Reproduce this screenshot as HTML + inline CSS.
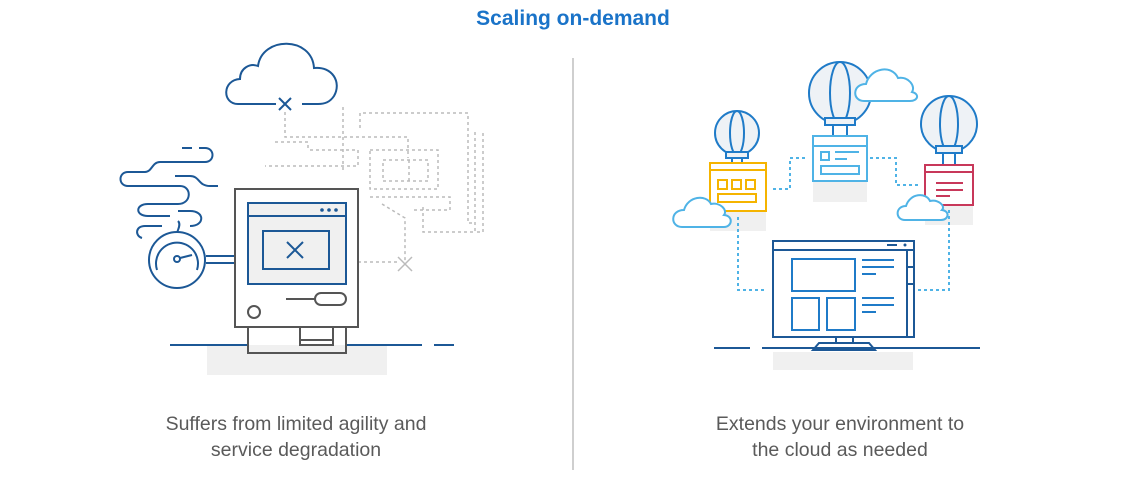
<!DOCTYPE html>
<html><head><style>
body{margin:0;width:1138px;height:473px;background:#fff;overflow:hidden;font-family:"Liberation Sans",sans-serif}
</style></head><body>
<svg width="1138" height="473" viewBox="0 0 1138 473" xmlns="http://www.w3.org/2000/svg">
<text x="573" y="25" text-anchor="middle" font-family="Liberation Sans" font-weight="bold" font-size="21" fill="#1a73c8">Scaling on-demand</text>
<line x1="573" y1="58" x2="573" y2="470" stroke="#cfcfcf" stroke-width="2"/>
<text x="296" y="430" text-anchor="middle" font-size="19.5" fill="#5a5a5a">Suffers from limited agility and</text>
<text x="296" y="456" text-anchor="middle" font-size="19.5" fill="#5a5a5a">service degradation</text>
<text x="840" y="430" text-anchor="middle" font-size="19.5" fill="#5a5a5a">Extends your environment to</text>
<text x="840" y="456" text-anchor="middle" font-size="19.5" fill="#5a5a5a">the cloud as needed</text>

<!-- LEFT -->
<rect x="207" y="345" width="180" height="30" fill="#f0f0f0"/>
<g fill="none" stroke="#bbb" stroke-width="1.5" stroke-dasharray="3,3">
<polyline points="285,112 285,137 408,137 408,158"/>
<polyline points="360,128 360,113 468,113 468,223 475,223"/>
<polyline points="475,132 475,232 483,232 483,132"/>
<polyline points="423,207 423,232 475,232"/>
<polyline points="310,150 358,150 358,166 265,166"/>
<polyline points="275,142 308,142 308,150"/>
<polyline points="370,150 438,150 438,189 370,189 370,150"/>
<polyline points="383,160 428,160 428,181 383,181 383,160"/>
<polyline points="409,160 409,181"/>
<polyline points="370,197 450,197 450,210 414,210"/>
<polyline points="382,204 405,218 405,262"/>
<polyline points="358,262 398,262"/>
<polyline points="343,107 343,173"/>
</g>
<path d="M398,257 l14,14 M412,257 l-14,14" stroke="#bbb" stroke-width="1.5"/>
<g fill="none" stroke="#1c5896" stroke-width="2">
<path d="M276,104 H238 C222,104 222,80 240,79 C240,68 250,63 258,66 C262,36 312,36 314,68 C332,66 342,82 334,96 C330,102 325,104 318,104 H302"/>
<path d="M279,98 l12,12 M291,98 l-12,12"/>
<circle cx="177" cy="260" r="28"/>
<path d="M157,270 A21,21 0 1 1 197,270"/>
<circle cx="177" cy="259" r="3"/>
<line x1="180" y1="258" x2="192" y2="255"/>
<line x1="206" y1="256" x2="235" y2="256"/>
<line x1="206" y1="263" x2="235" y2="263"/>
<path d="M182,148 h10 M199,148 h6 C215,148 215,162 205,162 H160 C152,162 152,172 145,172 H128 C118,172 118,186 128,186 H180 C192,186 192,204 178,204 H148 C135,204 135,216 148,216 H170"/>
<path d="M175,176 h15 C200,176 198,186 210,186 h8"/>
<path d="M178,211 h12 C205,211 205,226 190,226 M162,226 H145 C135,226 135,236 142,238 M178,221 C182,225 176,232 178,232"/>
<line x1="170" y1="345" x2="248" y2="345"/>
<line x1="346" y1="345" x2="422" y2="345"/>
<line x1="434" y1="345" x2="454" y2="345"/>
<rect x="248" y="203" width="98" height="81" fill="#f0f0f0"/>
<line x1="248" y1="216" x2="346" y2="216"/>
<rect x="263" y="231" width="66" height="38"/>
<path d="M287,242 l16,16 M303,242 l-16,16"/>
</g>
<g fill="#1c5896"><circle cx="322" cy="210" r="1.8"/><circle cx="329" cy="210" r="1.8"/><circle cx="336" cy="210" r="1.8"/></g>
<g fill="none" stroke="#555" stroke-width="2">
<rect x="235" y="189" width="123" height="138"/>
<rect x="248" y="327" width="98" height="26"/>
<rect x="300" y="327" width="33" height="18"/>
<line x1="300" y1="340" x2="333" y2="340"/>
<circle cx="254" cy="312" r="6"/>
<path d="M286,299 h29"/>
<rect x="315" y="293" width="31" height="12" rx="6"/>
</g>
<rect x="248" y="203" width="98" height="81" fill="none" stroke="#1c5896" stroke-width="2"/>

<!-- RIGHT -->
<rect x="813" y="181" width="54" height="21" fill="#f0f0f0"/>
<rect x="710" y="211" width="56" height="20" fill="#f0f0f0"/>
<rect x="925" y="205" width="48" height="20" fill="#f0f0f0"/>
<rect x="773" y="352" width="140" height="18" fill="#f0f0f0"/>
<g fill="none" stroke="#4fb3e6" stroke-width="2" stroke-dasharray="3,3">
<polyline points="773,189 790,189 790,158 808,158"/>
<polyline points="870,158 896,158 896,185 921,185"/>
<polyline points="738,217 738,290 765,290"/>
<polyline points="949,210 949,290 917,290"/>
</g>
<g stroke="#1f7bc8" stroke-width="2" fill="#eef2f6">
<circle cx="840" cy="93" r="31"/>
<ellipse cx="840" cy="93" rx="10" ry="31" fill="none"/>
<rect x="825" y="118" width="30" height="7"/>
<path d="M833,125 v10 M847,125 v10" fill="none"/>
<circle cx="737" cy="133" r="22"/>
<ellipse cx="737" cy="133" rx="7" ry="22" fill="none"/>
<rect x="726" y="152" width="22" height="6"/>
<path d="M732,158 v5 M742,158 v5" fill="none"/>
<circle cx="949" cy="124" r="28"/>
<ellipse cx="949" cy="124" rx="9" ry="28" fill="none"/>
<rect x="936" y="146" width="26" height="7"/>
<path d="M943,153 v12 M955,153 v12" fill="none"/>
</g>
<g fill="#fff" stroke-width="2">
<rect x="813" y="136" width="54" height="45" stroke="#4fb3e6"/>
<line x1="813" y1="146" x2="867" y2="146" stroke="#4fb3e6"/>
<rect x="821" y="152" width="8" height="8" stroke="#4fb3e6"/>
<rect x="821" y="166" width="38" height="8" stroke="#4fb3e6"/>
<path d="M835,152 h24 M835,159 h12" stroke="#4fb3e6"/>
<rect x="710" y="163" width="56" height="48" stroke="#f5b400"/>
<line x1="710" y1="170" x2="766" y2="170" stroke="#f5b400"/>
<rect x="718" y="180" width="9" height="9" stroke="#f5b400"/>
<rect x="732" y="180" width="9" height="9" stroke="#f5b400"/>
<rect x="746" y="180" width="9" height="9" stroke="#f5b400"/>
<rect x="718" y="194" width="38" height="8" stroke="#f5b400"/>
<rect x="925" y="165" width="48" height="40" stroke="#c8385a"/>
<line x1="925" y1="172" x2="973" y2="172" stroke="#c8385a"/>
<path d="M936,183 h27 M936,190 h27 M936,196 h14" stroke="#c8385a"/>
</g>
<g fill="#fff" stroke="#4fb3e6" stroke-width="2">
<path d="M864,101 C852,101 852,84 866,84 C870,68 892,64 898,78 C908,76 916,86 912,92 C920,94 918,101 910,101 Z"/>
<path d="M682,227 C670,227 670,210 684,210 C688,196 706,194 711,204 C720,202 728,210 724,215 C734,216 732,227 724,227 Z"/>
<path d="M905,220 C895,220 895,206 906,206 C910,193 926,192 930,201 C938,199 946,206 942,210 C950,211 949,220 941,220 Z"/>
</g>
<g fill="none" stroke="#1c5896" stroke-width="2">
<rect x="773" y="241" width="141" height="96"/>
<line x1="773" y1="250" x2="914" y2="250"/>
<line x1="907" y1="250" x2="907" y2="337"/>
<line x1="907" y1="267" x2="914" y2="267"/>
<line x1="907" y1="284" x2="914" y2="284"/>
<path d="M887,245 h10"/>
<rect x="836" y="337" width="17" height="6"/>
<path d="M813,350 l6,-7 h50 l6,7 Z"/>
<line x1="714" y1="348" x2="750" y2="348"/>
<line x1="762" y1="348" x2="980" y2="348"/>
</g>
<circle cx="905" cy="245" r="1.5" fill="#1c5896"/>
<g fill="none" stroke="#1f7bc8" stroke-width="2">
<rect x="792" y="259" width="63" height="32"/>
<rect x="792" y="298" width="27" height="32"/>
<rect x="827" y="298" width="28" height="32"/>
<path d="M862,260 h32 M862,267 h32 M862,274 h14 M862,298 h32 M862,305 h32 M862,312 h14"/>
</g>
</svg>
</body></html>
